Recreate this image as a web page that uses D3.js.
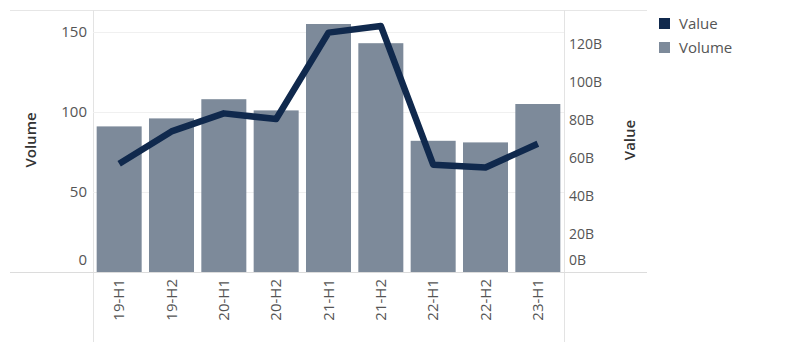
<!DOCTYPE html>
<html>
<head>
<meta charset="utf-8">
<script src="https://cdn.jsdelivr.net/npm/d3@7"></script>
<style>
  body { margin: 0; background: #fff; }
  text { font-family: "Open Sans", "Noto Sans", sans-serif; }
</style>
</head>
<body>
<svg id="chart" width="800" height="355"></svg>
<script>
// data
const periods = ["19-H1", "19-H2", "20-H1", "20-H2", "21-H1", "21-H2", "22-H1", "22-H2", "23-H1"];
const volume = [91, 96, 108, 101, 155, 143, 82, 81, 105];
const value = [57, 74, 83.5, 80.5, 126, 129.5, 56.5, 55, 67.5]; // billions
const volumeTicks = [0, 50, 100, 150];
const valueTicks = [0, 20, 40, 60, 80, 100, 120];

const barColor = "#7d8a9a";
const lineColor = "#10294d";
const textColor = "#555";

const plot = { left: 93, right: 564, top: 10, bottom: 272 };

const svg = d3.select("#chart");

const x = d3.scaleBand()
    .domain(periods)
    .range([plot.left, plot.right])
    .paddingInner(0.14)
    .paddingOuter(0.07);

const yVol = d3.scaleLinear()
    .domain([0, 163.75])
    .range([plot.bottom, plot.top]);

const yVal = d3.scaleLinear()
    .domain([0, 137.9])
    .range([plot.bottom, plot.top]);

// frame lines
svg.append("line")
    .attr("x1", 10).attr("x2", 647)
    .attr("y1", plot.top + 0.5).attr("y2", plot.top + 0.5)
    .attr("stroke", "#e6e6e6");
[plot.left, plot.right].forEach(px => {
    svg.append("line")
        .attr("x1", px + 0.5).attr("x2", px + 0.5)
        .attr("y1", plot.top).attr("y2", 342)
        .attr("stroke", "#e3e3e3");
});

// gridlines
svg.selectAll(".grid")
    .data(volumeTicks.filter(d => d > 0))
    .enter()
    .append("line")
    .attr("x1", plot.left).attr("x2", plot.right)
    .attr("y1", d => Math.round(yVol(d)) + 0.5)
    .attr("y2", d => Math.round(yVol(d)) + 0.5)
    .attr("stroke", "#f0f0f0");

// bars
svg.selectAll(".bar")
    .data(periods)
    .enter()
    .append("rect")
    .attr("x", d => x(d))
    .attr("y", (d, i) => yVol(volume[i]))
    .attr("width", x.bandwidth())
    .attr("height", (d, i) => plot.bottom - yVol(volume[i]))
    .attr("fill", barColor);

// baseline
svg.append("line")
    .attr("x1", 10).attr("x2", 647)
    .attr("y1", plot.bottom + 0.5).attr("y2", plot.bottom + 0.5)
    .attr("stroke", "#dcdcdc");

// value line
const line = d3.line()
    .x((d, i) => x(periods[i]) + x.bandwidth() / 2)
    .y(d => yVal(d));

svg.append("path")
    .datum(value)
    .attr("d", line)
    .attr("fill", "none")
    .attr("stroke", lineColor)
    .attr("stroke-width", 6.5)
    .attr("stroke-linejoin", "round");

// left axis labels (0 nudged up like the original)
svg.selectAll(".ltick")
    .data(volumeTicks)
    .enter()
    .append("text")
    .attr("x", 87)
    .attr("y", d => d === 0 ? yVol(d) - 12 : yVol(d))
    .attr("dy", "0.35em")
    .attr("text-anchor", "end")
    .attr("fill", textColor)
    .style("font-size", "15px")
    .text(d => d);

// right axis labels
svg.selectAll(".rtick")
    .data(valueTicks)
    .enter()
    .append("text")
    .attr("x", 569)
    .attr("y", d => d === 0 ? yVal(d) - 12 : yVal(d))
    .attr("dy", "0.35em")
    .attr("fill", textColor)
    .style("font-size", "14px")
    .text(d => d + "B");

// x labels, rotated
svg.selectAll(".xlab")
    .data(periods)
    .enter()
    .append("text")
    .attr("transform", d => `translate(${x(d) + x.bandwidth() / 2},279) rotate(-90)`)
    .attr("dy", "0.35em")
    .attr("text-anchor", "end")
    .attr("fill", textColor)
    .style("font-size", "15px")
    .text(d => d);

// axis titles
svg.append("text")
    .attr("transform", "translate(31,140) rotate(-90)")
    .attr("text-anchor", "middle")
    .attr("dy", "0.35em")
    .attr("fill", "#333")
    .style("font-size", "15px")
    .style("font-weight", "600")
    .text("Volume");

svg.append("text")
    .attr("transform", "translate(630,140) rotate(-90)")
    .attr("text-anchor", "middle")
    .attr("dy", "0.35em")
    .attr("fill", "#333")
    .style("font-size", "15px")
    .style("font-weight", "600")
    .text("Value");

// legend
const legendItems = [["Value", lineColor], ["Volume", barColor]];
const legend = svg.append("g").attr("transform", "translate(659,18)");
legend.selectAll("rect")
    .data(legendItems)
    .enter()
    .append("rect")
    .attr("x", 0)
    .attr("y", (d, i) => i * 24)
    .attr("width", 11)
    .attr("height", 11)
    .attr("fill", d => d[1]);
legend.selectAll("text")
    .data(legendItems)
    .enter()
    .append("text")
    .attr("x", 20)
    .attr("y", (d, i) => i * 24 + 6)
    .attr("dy", "0.35em")
    .attr("fill", textColor)
    .style("font-size", "15px")
    .text(d => d[0]);
</script>
</body>
</html>
